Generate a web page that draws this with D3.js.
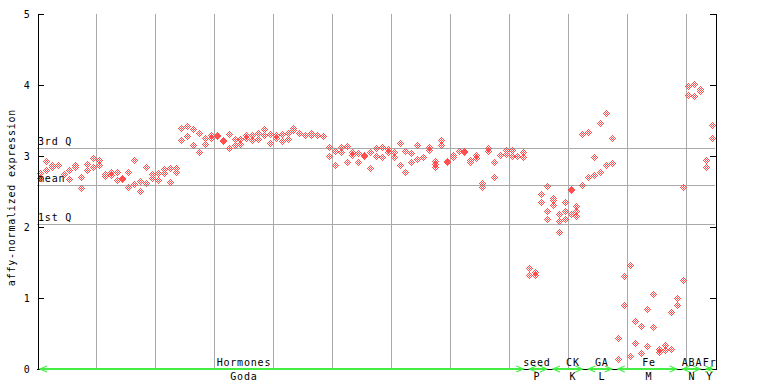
<!DOCTYPE html>
<html><head><meta charset="utf-8">
<script src="https://cdn.jsdelivr.net/npm/d3@7"></script>
<style>
body{margin:0;background:#fff}
svg{display:block}
text{font-family:"DejaVu Sans Mono",monospace;font-size:10px;letter-spacing:0.8px;fill:#000}
</style>
</head><body><svg id="c" width="768" height="384"></svg>
<script>
// expression values per sample column (replicates stacked in a column)
const columnValues = [
 [2.76,2.69],[2.93,2.80],[2.88,2.84],[2.88],[2.75,2.74],[2.80,2.67],[2.87,2.84],[2.70,2.55],[2.89,2.80],[2.97,2.85],
 [2.95,2.87],[2.75,2.72],[2.77,2.73],[2.78,2.66],[2.69,2.68],[2.77,2.56],[2.95,2.60],[2.65,2.51],[2.85,2.62],[2.74,2.69],
 [2.76,2.66],[2.82,2.76],[2.83,2.63],[2.83,2.77],[3.40,3.22],[3.42,3.28],[3.38,3.15],[3.33,3.05],[3.25,3.17],[3.29,3.25],
 [3.29,3.28],[3.22,3.21],[3.31,3.11],[3.24,3.16],[3.24,3.17],[3.29,3.25],[3.30,3.22],[3.33,3.24],[3.38,3.29],[3.31,3.19],
 [3.30,3.26],[3.31,3.21],[3.32,3.24],[3.40,3.37],[3.33],[3.30],[3.32,3.29],[3.30],[3.28],[3.13,3.00],
 [3.07,2.87],[3.12,3.05],[3.14,2.91],[3.06,3.02],[3.04,2.91],[3.01,3.00],[3.05,2.83],[3.11,3.00],[3.12,2.98],[3.10,3.06],
 [3.05,2.98],[3.19,2.88],[3.07,2.77],[3.04,2.91],[3.16,2.96],[2.99,2.98],[3.13,3.09],[2.93,2.89,2.85],[3.23,3.15],[2.93,2.92],
 [3.02,2.98],[3.07],[3.07,3.06],[2.94,2.91],[3.02,2.97],[2.62,2.57],[3.11,3.07],[2.91,2.70],[3.02,3.01],[3.09,3.03],
 [3.08,3.00],[3.00],[3.05,2.98],[1.42,1.32],[1.36,1.33],[2.46,2.35],[2.58,2.22,2.11],[2.41,2.38,2.31],[2.19,2.09,1.93],[2.35,2.23,2.11],
 [2.54,2.52,2.19],[2.29,2.23,2.16],[3.31,2.59],[3.34,2.70],[2.99,2.73],[3.46,2.77],[3.60,2.88],[3.26,2.90],[0.43,0.14],[1.31,0.90],
 [1.46,0.18],[0.68,0.36],[0.61,0.23],[0.84,0.32],[1.05,0.59],[0.28,0.24],[0.34,0.27],[0.80,0.28],[1.00,0.90],[2.56,1.25],
 [3.99,3.86],[4.02,3.85],[3.94,3.91],[2.95,2.84],[3.43,3.26]
];
const yTicks = [0,1,2,3,4,5];
const refLabels = ["3rd Q","mean","1st Q"];
const refValues = [3.108,2.587,2.042];
const groupTop = ["Hormones","seed","CK","GA","Fe","ABA","Fr"];
const groupBottom = ["Goda","P","K","L","M","N","Y"];
const groupStart = [0,83,87,93,98,109,113];
const groupEnd = [83,87,93,98,109,113,115];
const groupLabelAt = [34.6,84.3,90.4,95.3,103.3,110.6,113.6];
const gridColumns = [10,20,30,40,50,60,70,80,90,100,110];
const yTitle = "affy-normalized expression";

const svg = d3.select("#c");
const L=37, R=715, T=14, B=369;
const x = d3.scaleLinear().domain([0,columnValues.length]).range([L,R]);
const y = d3.scaleLinear().domain([0,5]).range([B,T]);
const grid="#a9a9a9", red="#ff4f4f", green="#44ee44";
const px = v => Math.round(v)+0.5;

// vertical gridlines
svg.append("g").selectAll("line").data(gridColumns).join("line")
  .attr("x1",d=>px(x(d))).attr("x2",d=>px(x(d))).attr("y1",T).attr("y2",B)
  .attr("stroke",grid).attr("shape-rendering","crispEdges");
// reference lines
svg.append("g").selectAll("line").data(refValues).join("line")
  .attr("x1",L).attr("x2",R).attr("y1",d=>px(y(d))).attr("y2",d=>px(y(d)))
  .attr("stroke",grid).attr("shape-rendering","crispEdges");

// points as dithered diamonds
const pts=[];
columnValues.forEach((vals,k)=>vals.forEach(v=>pts.push({k,v})));
function diamond(cx,cy){
  let s="";
  for(let dy=-3;dy<=3;dy++)for(let dx=-3;dx<=3;dx++){
    if(Math.abs(dx)+Math.abs(dy)<=3 && ((dx+dy)&1)) s+=`M${cx+dx},${cy+dy}h1v1h-1z`;
  }
  return s;
}
svg.append("g").selectAll("path").data(pts).join("path")
  .attr("d",d=>diamond(Math.round(x(d.k+0.5)),Math.round(y(d.v))))
  .attr("fill",red).attr("shape-rendering","crispEdges");

// reference labels
svg.append("g").selectAll("text").data(refLabels).join("text")
  .attr("x",L+1).attr("y",(d,i)=>Math.round(y(refValues[i]))-3).text(d=>d);

// axes
const ax=svg.append("g").attr("transform",`translate(${L+0.5},0)`)
  .call(d3.axisLeft(y).tickValues(yTicks).tickSize(-6).tickPadding(7).tickFormat(d3.format("d")));
ax.selectAll("text").style("font-size","10px");
ax.select(".domain").attr("stroke","#000");
const ax2=svg.append("g").attr("transform",`translate(${R+0.5},0)`)
  .call(d3.axisRight(y).tickValues(yTicks).tickSize(-6).tickFormat(""));
svg.selectAll(".domain").attr("shape-rendering","crispEdges");
svg.selectAll(".tick line").attr("shape-rendering","crispEdges");

// y title
svg.append("text").attr("transform",`translate(15,${(T+B)/2+6}) rotate(-90)`)
  .attr("text-anchor","middle").text(yTitle);

// bottom baseline
svg.append("line").attr("x1",L).attr("x2",R).attr("y1",B+0.5).attr("y2",B+0.5)
  .attr("stroke","#000").attr("shape-rendering","crispEdges");

// group green arrows
const gg=svg.append("g");
groupStart.forEach((s,i)=>{
  const x1=x(s)+3, x2=x(groupEnd[i])-3, yy=B;
  gg.append("line").attr("x1",x1).attr("x2",x2).attr("y1",yy).attr("y2",yy)
    .attr("stroke",green).attr("stroke-width",2);
  gg.append("path").attr("d",`M${x1+7},${yy-3}L${x1},${yy}L${x1+7},${yy+3}M${x2-7},${yy-3}L${x2},${yy}L${x2-7},${yy+3}`)
    .attr("fill","none").attr("stroke",green).attr("stroke-width",1.2);
});
svg.append("g").selectAll("text").data(groupTop).join("text")
  .attr("x",(d,i)=>x(groupLabelAt[i]+0.5)).attr("y",366).attr("text-anchor","middle").text(d=>d);
svg.append("g").selectAll("text").data(groupBottom).join("text")
  .attr("x",(d,i)=>x(groupLabelAt[i]+0.5)).attr("y",380).attr("text-anchor","middle").text(d=>d);
</script></body></html>
